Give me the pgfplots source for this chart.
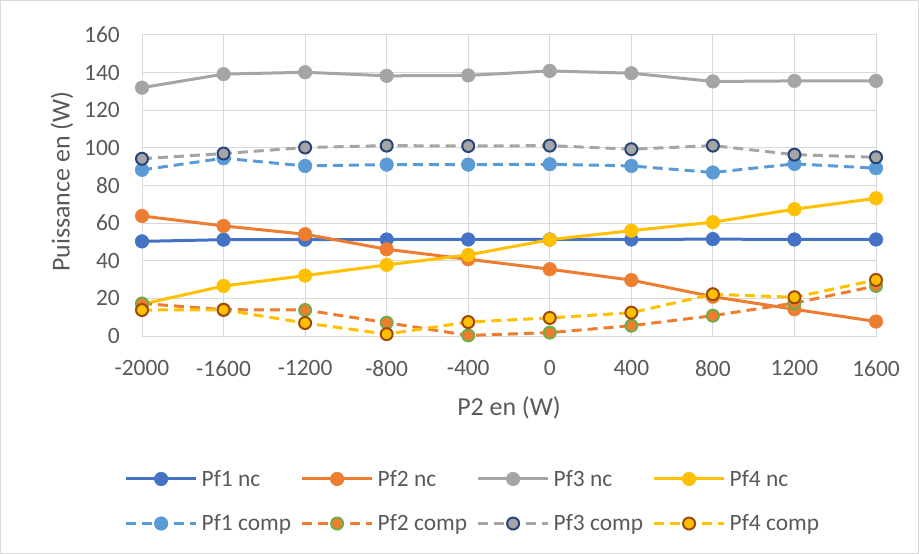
\documentclass[border=0pt]{standalone}
\usepackage{fontspec}
\setmainfont{Carlito}
\usepackage{pgfplots}
\pgfplotsset{compat=1.18}
\definecolor{cA}{HTML}{4472C4}
\definecolor{cB}{HTML}{ED7D31}
\definecolor{cC}{HTML}{A5A5A5}
\definecolor{cD}{HTML}{FFC000}
\definecolor{cE}{HTML}{5B9BD5}
\definecolor{gGreen}{HTML}{70AD47}
\definecolor{gNavy}{HTML}{264478}
\definecolor{gBrown}{HTML}{9E480E}
\definecolor{gridgray}{HTML}{D9D9D9}
\definecolor{txtgray}{HTML}{595959}
\pgfplotstableread{
x    p1nc p2nc p3nc  p4nc p1c  p2c  p3c   p4c
-2000 50.3 63.8 132.0 16.9 88.3 17.3 94.2  13.8
-1600 51.2 58.5 139.2 26.6 94.5 14.0 97.0  13.9
-1200 51.2 54.1 140.2 32.1 90.4 13.8 100.2 6.9
-800  51.3 46.1 138.3 37.8 91.1 7.1  101.2 1.0
-400  51.3 40.8 138.5 43.1 91.1 0.3  101.0 7.4
0     51.3 35.5 140.9 51.2 91.3 1.8  101.2 9.6
400   51.3 29.7 139.7 56.0 90.4 5.5  99.3  12.4
800   51.5 20.9 135.3 60.5 86.9 10.8 101.2 22.2
1200  51.3 14.2 135.6 67.4 91.5 17.5 96.4  20.6
1600  51.3 7.7  135.6 73.2 89.2 26.6 95.0  29.8
}\data
\begin{document}
\begin{tikzpicture}
\useasboundingbox (0bp,0bp) rectangle (919bp,554bp);
\draw[gridgray, line width=1bp] (0.5bp,0.5bp) rectangle (918.5bp,553.5bp);
\begin{axis}[
  at={(142bp,218bp)}, anchor=south west,
  scale only axis, width=734bp, height=301bp,
  xmin=-2000, xmax=1600, ymin=0, ymax=160,
  xtick={-2000,-1600,-1200,-800,-400,0,400,800,1200,1600},
  xticklabels={-2000,-1600,-1200,-800,-400,0,400,800,1200,1600},
  ytick={0,20,...,160},
  /pgf/number format/assume math mode=true,
  major tick length=0pt,
  grid=major,
  major grid style={draw=gridgray, line width=1bp},
  axis line style={draw=gridgray, line width=1bp},
  tick label style={font=\fontsize{23.5}{28}\selectfont, text=txtgray},
  yticklabel style={anchor=east, inner sep=0pt, xshift=-22bp},
  xticklabel style={anchor=north, inner sep=0pt, yshift=-24bp},
  xlabel={P2 en (W)}, ylabel={Puissance en (W)},
  label style={font=\fontsize{26}{30}\selectfont, text=txtgray},
  xlabel style={at={(axis description cs:0.5,-0.239)}, anchor=center},
  ylabel style={at={(axis description cs:-0.109,0.513)}, anchor=center, rotate=0},
  clip=false,
  legend columns=4,
  legend cell align=left,
  legend style={at={(axis description cs:-0.028,-0.432)}, anchor=north west,
    draw=none, fill=none, font=\fontsize{23.5}{28}\selectfont, text=txtgray,
    row sep=23bp,
    /tikz/every odd column/.append style={column sep=2bp}},
  legend image code/.code={\draw[#1, mark repeat=2, mark phase=2] plot coordinates {(0bp,0bp) (35bp,0bp) (70bp,0bp)};},
  every axis plot/.append style={line width=3bp},
]
\addplot[cA, mark=*, mark size=6.8bp, mark options={solid, fill=cA, draw=cA, line width=0.5bp}] table[x=x,y=p1nc]{\data};
\addlegendentry{\makebox[97bp][l]{Pf1 nc}}
\addplot[cB, mark=*, mark size=6.8bp, mark options={solid, fill=cB, draw=cB, line width=0.5bp}] table[x=x,y=p2nc]{\data};
\addlegendentry{\makebox[97bp][l]{Pf2 nc}}
\addplot[cC, mark=*, mark size=6.8bp, mark options={solid, fill=cC, draw=cC, line width=0.5bp}] table[x=x,y=p3nc]{\data};
\addlegendentry{\makebox[97bp][l]{Pf3 nc}}
\addplot[cD, mark=*, mark size=6.8bp, mark options={solid, fill=cD, draw=cD, line width=0.5bp}] table[x=x,y=p4nc]{\data};
\addlegendentry{\makebox[97bp][l]{Pf4 nc}}
\addplot[cE, dash pattern=on 10bp off 6bp, mark=*, mark size=6.8bp, mark options={solid, fill=cE, draw=cE, line width=0.5bp}] table[x=x,y=p1c]{\data};
\addlegendentry{\makebox[97bp][l]{Pf1 comp}}
\addplot[cB, dash pattern=on 10bp off 6bp, mark=*, mark size=6bp, mark options={solid, fill=cB, draw=gGreen, line width=2bp}] table[x=x,y=p2c]{\data};
\addlegendentry{\makebox[97bp][l]{Pf2 comp}}
\addplot[cC, dash pattern=on 10bp off 6bp, mark=*, mark size=6bp, mark options={solid, fill=cC, draw=gNavy, line width=2bp}] table[x=x,y=p3c]{\data};
\addlegendentry{\makebox[97bp][l]{Pf3 comp}}
\addplot[cD, dash pattern=on 10bp off 6bp, mark=*, mark size=6bp, mark options={solid, fill=cD, draw=gBrown, line width=2bp}] table[x=x,y=p4c]{\data};
\addlegendentry{\makebox[97bp][l]{Pf4 comp}}
\end{axis}
\end{tikzpicture}
\end{document}
